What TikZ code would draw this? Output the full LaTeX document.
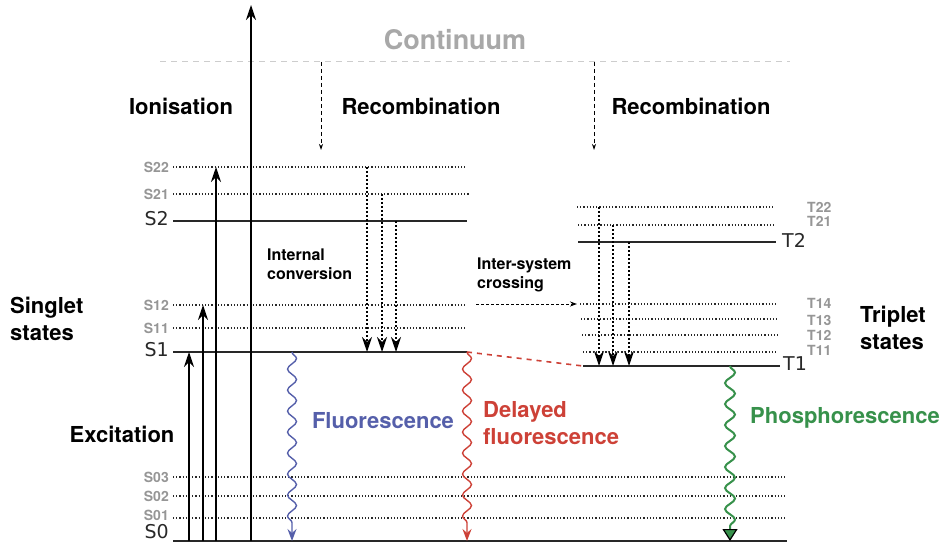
\documentclass[tikz,border=0pt]{standalone}
\usepackage{fontspec}
\setmainfont{TeX Gyre Heros}
\newfontfamily\lvlfont{DejaVu Sans}
\usetikzlibrary{arrows.meta,decorations.pathmorphing}
\definecolor{contgray}{RGB}{168,168,168}
\definecolor{dashgray}{RGB}{205,205,205}
\definecolor{subgray}{RGB}{150,150,150}
\definecolor{linegray}{RGB}{40,40,40}
\definecolor{fluoblue}{RGB}{85,95,170}
\definecolor{delred}{RGB}{205,65,55}
\definecolor{phosgreen}{RGB}{55,145,75}

\begin{document}
\begin{tikzpicture}[x=1pt,y=-1pt,
  lvl/.style={line width=1.6pt,draw=linegray},
  sublvl/.style={line width=1.5pt,draw=linegray,dash pattern=on 1.2pt off 2pt},
  exc/.style={line width=1.3pt,-{Stealth[length=15pt,width=10pt,inset=5pt]}},
  ic/.style={line width=1.2pt,dash pattern=on 2pt off 2pt,-{Stealth[length=15pt,width=10pt,inset=5pt]}},
  rec/.style={line width=0.9pt,dash pattern=on 4pt off 3pt,-{Stealth[length=6pt,width=4pt]}},
  wavy/.style={line width=1.4pt,decorate,decoration={snake,amplitude=4.5pt,segment length=21pt,post length=10pt}},
  lbl/.style={inner sep=0pt,font=\fontsize{22}{27}\selectfont\bfseries,align=left},
  smlbl/.style={inner sep=0pt,font=\fontsize{16}{19}\selectfont\bfseries,align=left},
  sublbl/.style={inner sep=0pt,text=subgray,font=\fontsize{14}{14}\selectfont\bfseries},
  lvllbl/.style={inner sep=0pt,text=linegray,font=\lvlfont\fontsize{19}{19}\selectfont}]
\useasboundingbox (0,0) rectangle (941,545);
% 连续态
\coordinate (Ca) at (160,62);
\coordinate (Cb) at (790,62);
% 单重态能级
\coordinate (S22a) at (173,167); \coordinate (S22b) at (467,167);
\coordinate (S21a) at (173,194); \coordinate (S21b) at (470,194);
\coordinate (S2a) at (173,221);  \coordinate (S2b) at (467,221);
\coordinate (S12a) at (173,305); \coordinate (S12b) at (467,305);
\coordinate (S11a) at (173,328); \coordinate (S11b) at (467,328);
\coordinate (S1a) at (173,352);  \coordinate (S1b) at (467,352);
\coordinate (S03a) at (173,477); \coordinate (S03b) at (785,477);
\coordinate (S02a) at (173,496); \coordinate (S02b) at (785,496);
\coordinate (S01a) at (173,518); \coordinate (S01b) at (785,518);
\coordinate (S0a) at (173,541);  \coordinate (S0b) at (787,541);
% 三重态能级
\coordinate (T22a) at (577,207); \coordinate (T22b) at (775,207);
\coordinate (T21a) at (578,225); \coordinate (T21b) at (775,225);
\coordinate (T2a) at (578,242);  \coordinate (T2b) at (776,242);
\coordinate (T14a) at (580,304); \coordinate (T14b) at (778,304);
\coordinate (T13a) at (581,319); \coordinate (T13b) at (778,319);
\coordinate (T12a) at (582,335); \coordinate (T12b) at (778,335);
\coordinate (T11a) at (583,352); \coordinate (T11b) at (778,352);
\coordinate (T1a) at (583,366);  \coordinate (T1b) at (780,366);
% 竖直箭头所在的列
\coordinate (cE1) at (189,0); \coordinate (cE2) at (203,0);
\coordinate (cE3) at (216,0); \coordinate (cI) at (251,0);
\coordinate (cR1) at (321,0); \coordinate (cR2) at (594,0);
\coordinate (cS1) at (367,0); \coordinate (cS2) at (382,0); \coordinate (cS3) at (396,0);
\coordinate (cT1) at (599,0); \coordinate (cT2) at (613,0); \coordinate (cT3) at (629,0);
\coordinate (cF) at (292,0); \coordinate (cD) at (467,0); \coordinate (cP) at (730,0);
\coordinate (top) at (0,5); \coordinate (recend) at (0,150);
\coordinate (isca) at (476,304); \coordinate (iscb) at (577,304);

\draw[draw=dashgray,line width=1pt,dash pattern=on 6pt off 5pt] (Ca)--(Cb);
\draw[lvl] (S2a)--(S2b); \draw[lvl] (S1a)--(S1b); \draw[lvl] (S0a)--(S0b);
\draw[lvl] (T2a)--(T2b); \draw[lvl] (T1a)--(T1b);
\draw[sublvl] (S22a)--(S22b); \draw[sublvl] (S21a)--(S21b);
\draw[sublvl] (S12a)--(S12b); \draw[sublvl] (S11a)--(S11b);
\draw[sublvl] (S03a)--(S03b); \draw[sublvl] (S02a)--(S02b); \draw[sublvl] (S01a)--(S01b);
\draw[sublvl] (T22a)--(T22b); \draw[sublvl] (T21a)--(T21b);
\draw[sublvl] (T14a)--(T14b); \draw[sublvl] (T13a)--(T13b);
\draw[sublvl] (T12a)--(T12b); \draw[sublvl] (T11a)--(T11b);

% 激发与电离
\draw[exc] (cE1 |- S0a)--(cE1 |- S1a);
\draw[exc] (cE2 |- S0a)--(cE2 |- S12a);
\draw[exc] (cE3 |- S0a)--(cE3 |- S22a);
\draw[exc] (cI |- S0a)--(cI |- top);
% 复合
\draw[rec] (cR1 |- Ca)--(cR1 |- recend);
\draw[rec] (cR2 |- Ca)--(cR2 |- recend);
% 内转换与系间窜越
\draw[ic] (cS1 |- S22a)--(cS1 |- S1a);
\draw[ic] (cS2 |- S21a)--(cS2 |- S1a);
\draw[ic] (cS3 |- S2a)--(cS3 |- S1a);
\draw[ic] (cT1 |- T22a)--(cT1 |- T1a);
\draw[ic] (cT2 |- T21a)--(cT2 |- T1a);
\draw[ic] (cT3 |- T2a)--(cT3 |- T1a);
\draw[line width=0.9pt,dash pattern=on 3pt off 2pt,-{Stealth[length=7pt,width=5pt]}] (isca)--(iscb);
\draw[delred,line width=1.6pt,dash pattern=on 5pt off 5pt] (S1b)--(T1a);
% 辐射跃迁
\draw[wavy,fluoblue,-{Stealth[length=12pt,width=9pt,inset=4pt]}] (cF |- S1a)--(cF |- S0a);
\draw[wavy,delred,-{Stealth[length=12pt,width=9pt,inset=4pt]}] (cD |- S1a)--(cD |- S0a);
\draw[wavy,phosgreen,line width=2pt,decoration={amplitude=5pt},
  -{Triangle[length=12pt,width=15pt,fill=phosgreen,color=black,line width=1.2pt]}] (cP |- T1a)--(cP |- S0a);

% 能级标记
\node[sublbl,anchor=east] (lS22) at (169,167) {S22};
\node[sublbl,anchor=east] (lS21) at (169,194) {S21};
\node[lvllbl,anchor=east] (lS2) at (169,219) {S2};
\node[sublbl,anchor=east] (lS12) at (169,305) {S12};
\node[sublbl,anchor=east] (lS11) at (169,328) {S11};
\node[lvllbl,anchor=east] (lS1) at (169,350) {S1};
\node[sublbl,anchor=east] (lS03) at (169,477) {S03};
\node[sublbl,anchor=east] (lS02) at (169,496) {S02};
\node[sublbl,anchor=east] (lS01) at (169,515) {S01};
\node[lvllbl,anchor=east] (lS0) at (169,532) {S0};
\node[sublbl,anchor=west] (lT22) at (807,207) {T22};
\node[sublbl,anchor=west] (lT21) at (807,221) {T21};
\node[lvllbl,anchor=west] (lT2) at (782,240) {T2};
\node[sublbl,anchor=west] (lT14) at (807,303) {T14};
\node[sublbl,anchor=west] (lT13) at (807,320) {T13};
\node[sublbl,anchor=west] (lT12) at (807,335) {T12};
\node[sublbl,anchor=west] (lT11) at (807,350) {T11};
\node[lvllbl,anchor=west] (lT1) at (783,364) {T1};

% 文字说明
\node[inner sep=0pt,text=contgray,font=\fontsize{27}{27}\selectfont\bfseries] (cont) at (455,40) {Continuum};
\node[lbl] (ion) at (181,106) {Ionisation};
\node[lbl] (rec1) at (421,106) {Recombination};
\node[lbl] (rec2) at (691,106) {Recombination};
\node[lbl,anchor=west] (sing) at (10,319) {Singlet\\states};
\node[lbl,anchor=west] (trip) at (860,328) {Triplet\\states};
\node[lbl] (exci) at (122,434) {Excitation};
\node[smlbl,anchor=west] (intc) at (267,264) {Internal\\conversion};
\node[smlbl,anchor=west] (isc) at (477,275) {Inter-system\\crossing};
\node[lbl,text=fluoblue] (fluo) at (383,421) {Fluorescence};
\node[lbl,text=delred,anchor=west] (dfluo) at (483,423) {Delayed\\fluorescence};
\node[lbl,text=phosgreen,anchor=west] (phos) at (750,418) {Phosphorescence};
\end{tikzpicture}
\end{document}
